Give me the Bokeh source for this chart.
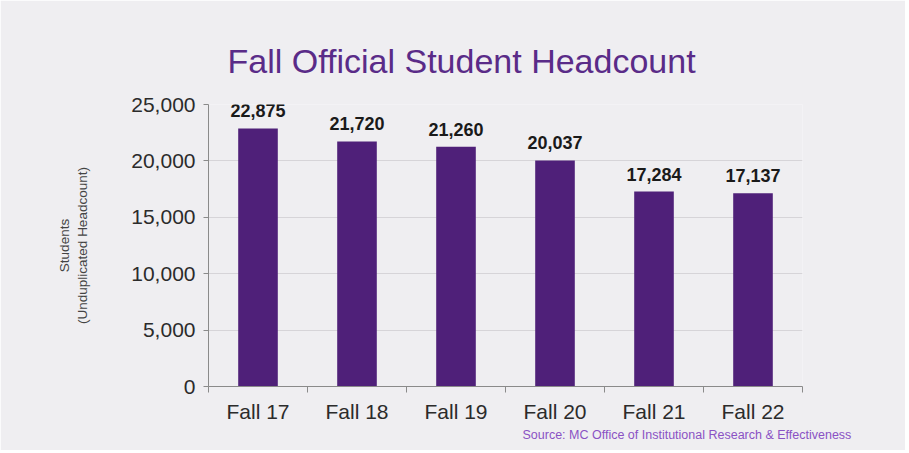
from bokeh.plotting import figure
from bokeh.models import FixedTicker, NumeralTickFormatter, Title, ColumnDataSource, Range1d
from bokeh.core.properties import value
from bokeh.embed import file_html
from bokeh.resources import INLINE

categories = ["Fall 17", "Fall 18", "Fall 19", "Fall 20", "Fall 21", "Fall 22"]
headcount = [22875, 21720, 21260, 20037, 17284, 17137]
y_ticks = [0, 5000, 10000, 15000, 20000, 25000]

BG = "#efeef1"
BAR = "#4f2079"
FONT = "Liberation Sans"

xpos = [i + 0.5 for i in range(len(categories))]
src = ColumnDataSource(dict(x=xpos, y=headcount,
                            lbl=["{:,}".format(v) for v in headcount]))

p = figure(width=905, height=450, output_backend="svg", toolbar_location=None,
           title=None,
           x_range=Range1d(0, len(categories)), y_range=Range1d(0, 25000),
           min_border_left=208, min_border_right=103, min_border_top=104,
           min_border_bottom=64)
p.background_fill_color = BG
p.border_fill_color = BG
p.outline_line_color = None

p.vbar(x="x", top="y", width=0.4, source=src, fill_color=BAR, line_color=None)
p.text(x="x", y="y", text="lbl", source=src, text_align="center",
       text_baseline="bottom", y_offset=-11, text_font=value(FONT),
       text_font_style="bold", text_font_size="18px", text_color="#1a1a1a")

# title
p.add_layout(Title(text="Fall Official Student Headcount", align="left", offset=19,
                   vertical_align="top", standoff=46, text_font=FONT,
                   text_font_size="34px", text_font_style="normal",
                   text_color="#5a2b88"), "above")

# axes
p.xaxis.ticker = FixedTicker(ticks=xpos, minor_ticks=list(range(len(categories) + 1)))
p.xaxis.major_label_overrides = {x: c for x, c in zip(xpos, categories)}
p.xaxis.major_tick_line_color = None
p.xaxis.minor_tick_out = 6
p.xaxis.minor_tick_in = 0
p.xaxis.minor_tick_line_color = "#8a8a8a"
p.xaxis.axis_line_color = "#8a8a8a"
p.xaxis.major_label_text_font = FONT
p.xaxis.major_label_text_font_size = "21px"
p.xaxis.major_label_text_color = "#2b2b2b"
p.xaxis.major_label_standoff = 7
p.xgrid.grid_line_color = None

p.yaxis.ticker = FixedTicker(ticks=y_ticks)
p.yaxis.formatter = NumeralTickFormatter(format="0,0")
p.yaxis.major_tick_out = 5
p.yaxis.major_tick_in = 0
p.yaxis.minor_tick_line_color = None
p.yaxis.major_tick_line_color = "#8a8a8a"
p.yaxis.axis_line_color = "#8a8a8a"
p.yaxis.major_label_text_font = FONT
p.yaxis.major_label_text_font_size = "21px"
p.yaxis.major_label_text_color = "#2b2b2b"
p.yaxis.major_label_standoff = 8
p.yaxis.axis_label = "Students\n(Unduplicated Headcount)"
p.yaxis.axis_label_text_font = FONT
p.yaxis.axis_label_text_font_size = "13.5px"
p.yaxis.axis_label_text_font_style = "normal"
p.yaxis.axis_label_text_color = "#444444"
p.yaxis.axis_label_standoff = 38
p.ygrid.grid_line_color = "#d6d4d8"

# source
src_title = Title(text="Source: MC Office of Institutional Research & Effectiveness",
                  align="left", offset=314, standoff=0, text_font=FONT,
                  text_font_size="12.5px", text_font_style="normal",
                  text_color="#8a52c4")
p.add_layout(src_title, "below")

open("out.html", "w").write(file_html(p, INLINE))
